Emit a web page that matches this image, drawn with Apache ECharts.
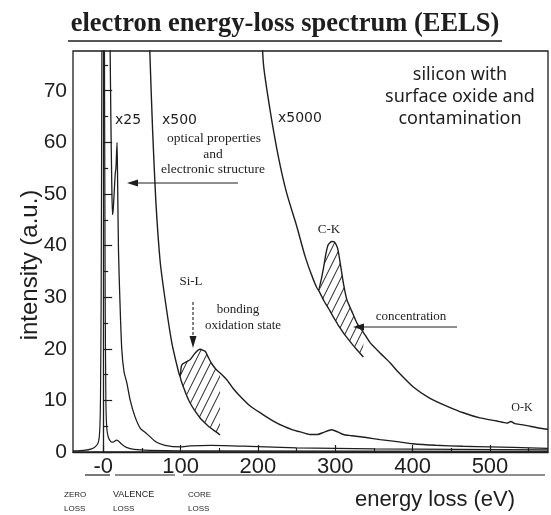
<!DOCTYPE html>
<html>
<head>
<meta charset="utf-8">
<title>EELS</title>
<script src="https://cdn.jsdelivr.net/npm/echarts@6/dist/echarts.min.js"></script>
<style>html,body{margin:0;padding:0;background:#fff}#main{width:551px;height:515px}</style>
</head>
<body>
<div id="main"></div>
<script>
// energy loss (eV), intensity (a.u.)
var zeroLoss = [[-39,0.2],[-25,0.3],[-15,0.6],[-9,1.2],[-6,2.0],[-4.5,4],[-3.5,10],[-2.6,30],[-1.8,70],[-1,100],
  [1,100],[1.8,70],[2.6,30],[3.5,10],[4.5,5],[6,3.2],[8,2.4],[11,1.9],[14,2.0],[17,2.3],[20,2.1],[24,1.5],
  [30,0.9],[40,0.5],[60,0.3],[100,0.2],[575,0.15]];

var x25 = [[7.5,100],[9,78],[10,64],[11,53],[12,46],[13,47],[14.5,51],[15.6,54],[16.5,55],[17.3,58],[18,60],
  [18.7,52],[19.8,39],[21.5,30],[24,20],[27,15.5],[30.6,13.4],[35,10],[41,6.9],[48,4.6],[56,3.6],[68,2.0],
  [80,1.3],[100,1.0],[112,1.2],[140,1.3],[190,1.1],[250,0.8],[350,0.6],[460,0.5],[575,0.4]];

var x500 = [[57,95],[60.7,75.8],[64,62],[68,48.8],[73.6,37],[80.1,29.5],[88.8,21.1],[97.3,15.6],[99.5,14.6],
  [101,16.6],[103,17.1],[108,17.5],[112.4,17.9],[118.9,19.2],[125.3,19.9],[131.8,19.5],[136,18.3],[140.4,17.1],
  [146,16.0],[151.2,15.3],[159.8,14],[168,12.3],[177,10.8],[190,8.9],[205,7.4],[220,6],[233,5.0],[245,4.3],
  [257,3.8],[267,3.4],[277,3.4],[285,3.8],[295.5,4.3],[303,3.9],[310.5,3.4],[319,3.2],[340,2.8],[358,2.4],
  [380,2.0],[400,1.6],[430,1.3],[465,1.1],[500,1.0],[530,0.9],[575,0.7]];

var x5000 = [[203,90],[207.1,75.3],[215.8,66.2],[226.5,57.2],[237.3,50.1],[250.3,43.7],[261,37.9],[271.7,33.4],
  [278.2,31.4],[282,33.5],[285,35.8],[288,38.5],[291,40.2],[295.5,40.8],[299,40.7],[303,39.5],[306,37],
  [310.5,32.7],[315,29.5],[321.3,27.3],[328,25],[336.3,23.2],[345,21.2],[357.9,19.2],[370.8,17.3],[379.5,15.8],
  [400.9,12.6],[422.5,10.4],[444,8.9],[465.5,7.6],[487,6.6],[508.7,6.0],[522,5.6],[527,5.9],[532,5.5],
  [541,5.3],[551.7,5.0],[568.9,4.5],[575,4.4]];

// hatched edge regions: extrapolated background (lower) and spectrum (upper)
var siEv    = [99.5, 101, 103, 108, 112.4, 118.9, 125.3, 131.8, 136, 140.4, 146, 151];
var siLower = [14.6, 13.7, 12.9, 10.9, 9.5, 7.9, 6.6, 5.6, 5.0, 4.5, 3.9, 3.3];
var siUpper = [14.6, 16.6, 17.1, 17.5, 17.9, 19.2, 19.9, 19.5, 18.3, 17.1, 16.0, 15.3];

var ckEv    = [278.2, 282, 285, 288, 291, 295.5, 299, 303, 306, 310.5, 315, 321.3, 328, 336.3];
var ckLower = [31.4, 30.3, 29.4, 28.6, 27.9, 26.7, 25.8, 24.8, 24.1, 23.1, 22.2, 21.0, 19.8, 18.4];
var ckUpper = [31.4, 33.5, 35.8, 38.5, 40.2, 40.8, 40.7, 39.5, 37, 32.7, 29.5, 27.3, 25, 23.2];

var xLabels = [0, 100, 200, 300, 400, 500];
var xMinor = [50, 150, 250, 350, 450, 550];
var yLabels = [0, 10, 20, 30, 40, 50, 60, 70];
var yMinor = [5, 15, 25, 35, 45, 55, 65, 75];

var ink = '#1e1e1e';

function hatch() {
  var c = document.createElement('canvas');
  c.width = 8; c.height = 16;
  var g = c.getContext('2d');
  g.strokeStyle = ink; g.lineWidth = 1.0;
  g.beginPath();
  g.moveTo(0, 16); g.lineTo(8, 0);
  g.moveTo(-1, 2); g.lineTo(1, -2);
  g.moveTo(7, 18); g.lineTo(9, 14);
  g.stroke();
  return c;
}
var pattern = hatch();

function pairs(ev, vals) {
  return ev.map(function (e, i) { return [e, vals[i]]; });
}

function curve(data, w) {
  return { type: 'line', data: data, symbol: 'none', smooth: 0.2, clip: true,
    lineStyle: { color: ink, width: w || 1.4 }, silent: true };
}

// polygon between background and spectrum, filled with diagonal hatching
function hatchArea(ev, lo, hi) {
  return {
    type: 'custom', silent: true, clip: true, z: 1,
    data: [[ev[0], lo[0]]],
    renderItem: function (params, api) {
      var pts = [];
      for (var i = 0; i < ev.length; i++) pts.push(api.coord([ev[i], hi[i]]));
      for (var j = ev.length - 1; j >= 0; j--) pts.push(api.coord([ev[j], lo[j]]));
      return { type: 'polygon', shape: { points: pts },
        style: { fill: { image: pattern, repeat: 'repeat' }, stroke: null } };
    }
  };
}

function label(x, y, text, font, align) {
  return { type: 'text', x: x, y: y,
    style: { text: text, font: font, fill: ink, textAlign: align || 'center', textVerticalAlign: 'middle' } };
}

var option = {
  animation: false,
  textStyle: { fontFamily: 'Liberation Sans', color: ink },
  title: {
    text: 'electron energy-loss spectrum (EELS)',
    left: 280, top: 6, textAlign: 'center',
    textStyle: { fontFamily: 'Liberation Serif', fontWeight: 'bold', fontSize: 26.5, color: ink }
  },
  grid: { left: 73, right: 3, top: 51, bottom: 63, show: true, borderColor: ink, borderWidth: 1.3 },
  xAxis: [{
    type: 'value', min: -39, max: 575,
    axisLine: { lineStyle: { color: ink, width: 1.3 } },
    axisTick: { inside: true, length: 7, customValues: xLabels, lineStyle: { color: ink, width: 1.2 } },
    axisLabel: { customValues: xLabels, fontSize: 22, color: ink, margin: 4,
      formatter: function (v) { return v === 0 ? '-0' : v; } },
    splitLine: { show: false }
  }, {
    type: 'value', min: -39, max: 575, position: 'bottom',
    axisLine: { show: false },
    axisTick: { inside: true, length: 4, customValues: xMinor, lineStyle: { color: ink, width: 1.2 } },
    axisLabel: { show: false }, splitLine: { show: false }
  }],
  yAxis: [{
    type: 'value', min: 0, max: 77.7,
    axisLine: { show: true, lineStyle: { color: ink, width: 1.3 } },
    axisTick: { show: true, inside: true, length: 9, customValues: yLabels, lineStyle: { color: ink, width: 1.2 } },
    axisLabel: { customValues: yLabels, fontSize: 21, color: ink, margin: 6 },
    splitLine: { show: false }
  }, {
    type: 'value', min: 0, max: 77.7, position: 'left',
    axisLine: { show: false },
    axisTick: { show: true, inside: true, length: 5, customValues: yMinor, lineStyle: { color: ink, width: 1.2 } },
    axisLabel: { show: false }, splitLine: { show: false }
  }],
  series: [
    hatchArea(siEv, siLower, siUpper),
    hatchArea(ckEv, ckLower, ckUpper),
    curve(zeroLoss, 1.2),
    curve(x25, 1.3),
    curve(x500),
    curve(pairs(siEv, siLower)),
    curve(x5000),
    curve(pairs(ckEv, ckLower))
  ],
  graphic: [
    // title underline
    { type: 'line', shape: { x1: 68, y1: 41, x2: 502, y2: 41 }, style: { stroke: ink, lineWidth: 1.5 } },
    // axis names
    { type: 'text', x: 30, y: 265, rotation: Math.PI / 2,
      style: { text: 'intensity (a.u.)', font: '24px Liberation Sans', fill: ink, textAlign: 'center', textVerticalAlign: 'middle' } },
    label(435, 500, 'energy loss (eV)', '22px Liberation Sans'),
    // region bars under the tick labels
    { type: 'line', shape: { x1: 85, y1: 475, x2: 110, y2: 475 }, style: { stroke: ink, lineWidth: 1.2 } },
    { type: 'line', shape: { x1: 115, y1: 475, x2: 175, y2: 475 }, style: { stroke: ink, lineWidth: 1.2 } },
    { type: 'line', shape: { x1: 183, y1: 475, x2: 545, y2: 475 }, style: { stroke: ink, lineWidth: 1.2 } },
    label(64, 495, 'ZERO', '8px Liberation Sans', 'left'),
    label(64, 509, 'LOSS', '8px Liberation Sans', 'left'),
    label(113, 495, 'VALENCE', '9px Liberation Sans', 'left'),
    label(113, 509, 'LOSS', '8px Liberation Sans', 'left'),
    label(188, 495, 'CORE', '8px Liberation Sans', 'left'),
    label(188, 509, 'LOSS', '8px Liberation Sans', 'left'),
    // magnification labels
    label(115, 120, 'x25', '14px DejaVu Sans', 'left'),
    label(162, 120, 'x500', '14px DejaVu Sans', 'left'),
    label(278, 118, 'x5000', '14px DejaVu Sans', 'left'),
    // sample description
    label(460, 75, 'silicon with', '18px Noto Sans'),
    label(460, 97, 'surface oxide and', '18px Noto Sans'),
    label(460, 119, 'contamination', '18px Noto Sans'),
    // valence loss note + arrow
    label(214, 138, 'optical properties', '13.5px Liberation Serif'),
    label(213, 154, 'and', '13.5px Liberation Serif'),
    label(213, 169, 'electronic structure', '13.5px Liberation Serif'),
    { type: 'line', shape: { x1: 238, y1: 183, x2: 134, y2: 183 }, style: { stroke: ink, lineWidth: 1.2 } },
    { type: 'polygon', shape: { points: [[127, 183], [138, 179.5], [138, 186.5]] }, style: { fill: ink } },
    // Si-L note + arrow
    label(191, 282, 'Si-L', '13px Liberation Serif'),
    { type: 'line', shape: { x1: 193, y1: 302, x2: 193, y2: 338 }, style: { stroke: ink, lineWidth: 1.1, lineDash: [3, 2] } },
    { type: 'polygon', shape: { points: [[193, 348], [189.5, 336], [196.5, 336]] }, style: { fill: ink } },
    label(238, 310, 'bonding', '13px Liberation Serif'),
    label(243, 326, 'oxidation state', '13px Liberation Serif'),
    // C-K note + arrow
    label(329, 230, 'C-K', '13px Liberation Serif'),
    label(411, 317, 'concentration', '13px Liberation Serif'),
    { type: 'line', shape: { x1: 457, y1: 327, x2: 362, y2: 327 }, style: { stroke: ink, lineWidth: 1.2 } },
    { type: 'polygon', shape: { points: [[353, 327], [364, 323.5], [364, 330.5]] }, style: { fill: ink } },
    // O-K
    label(522, 408, 'O-K', '12px Liberation Serif')
  ]
};

var chart = echarts.init(document.getElementById('main'));
chart.setOption(option);
</script>
</body>
</html>
